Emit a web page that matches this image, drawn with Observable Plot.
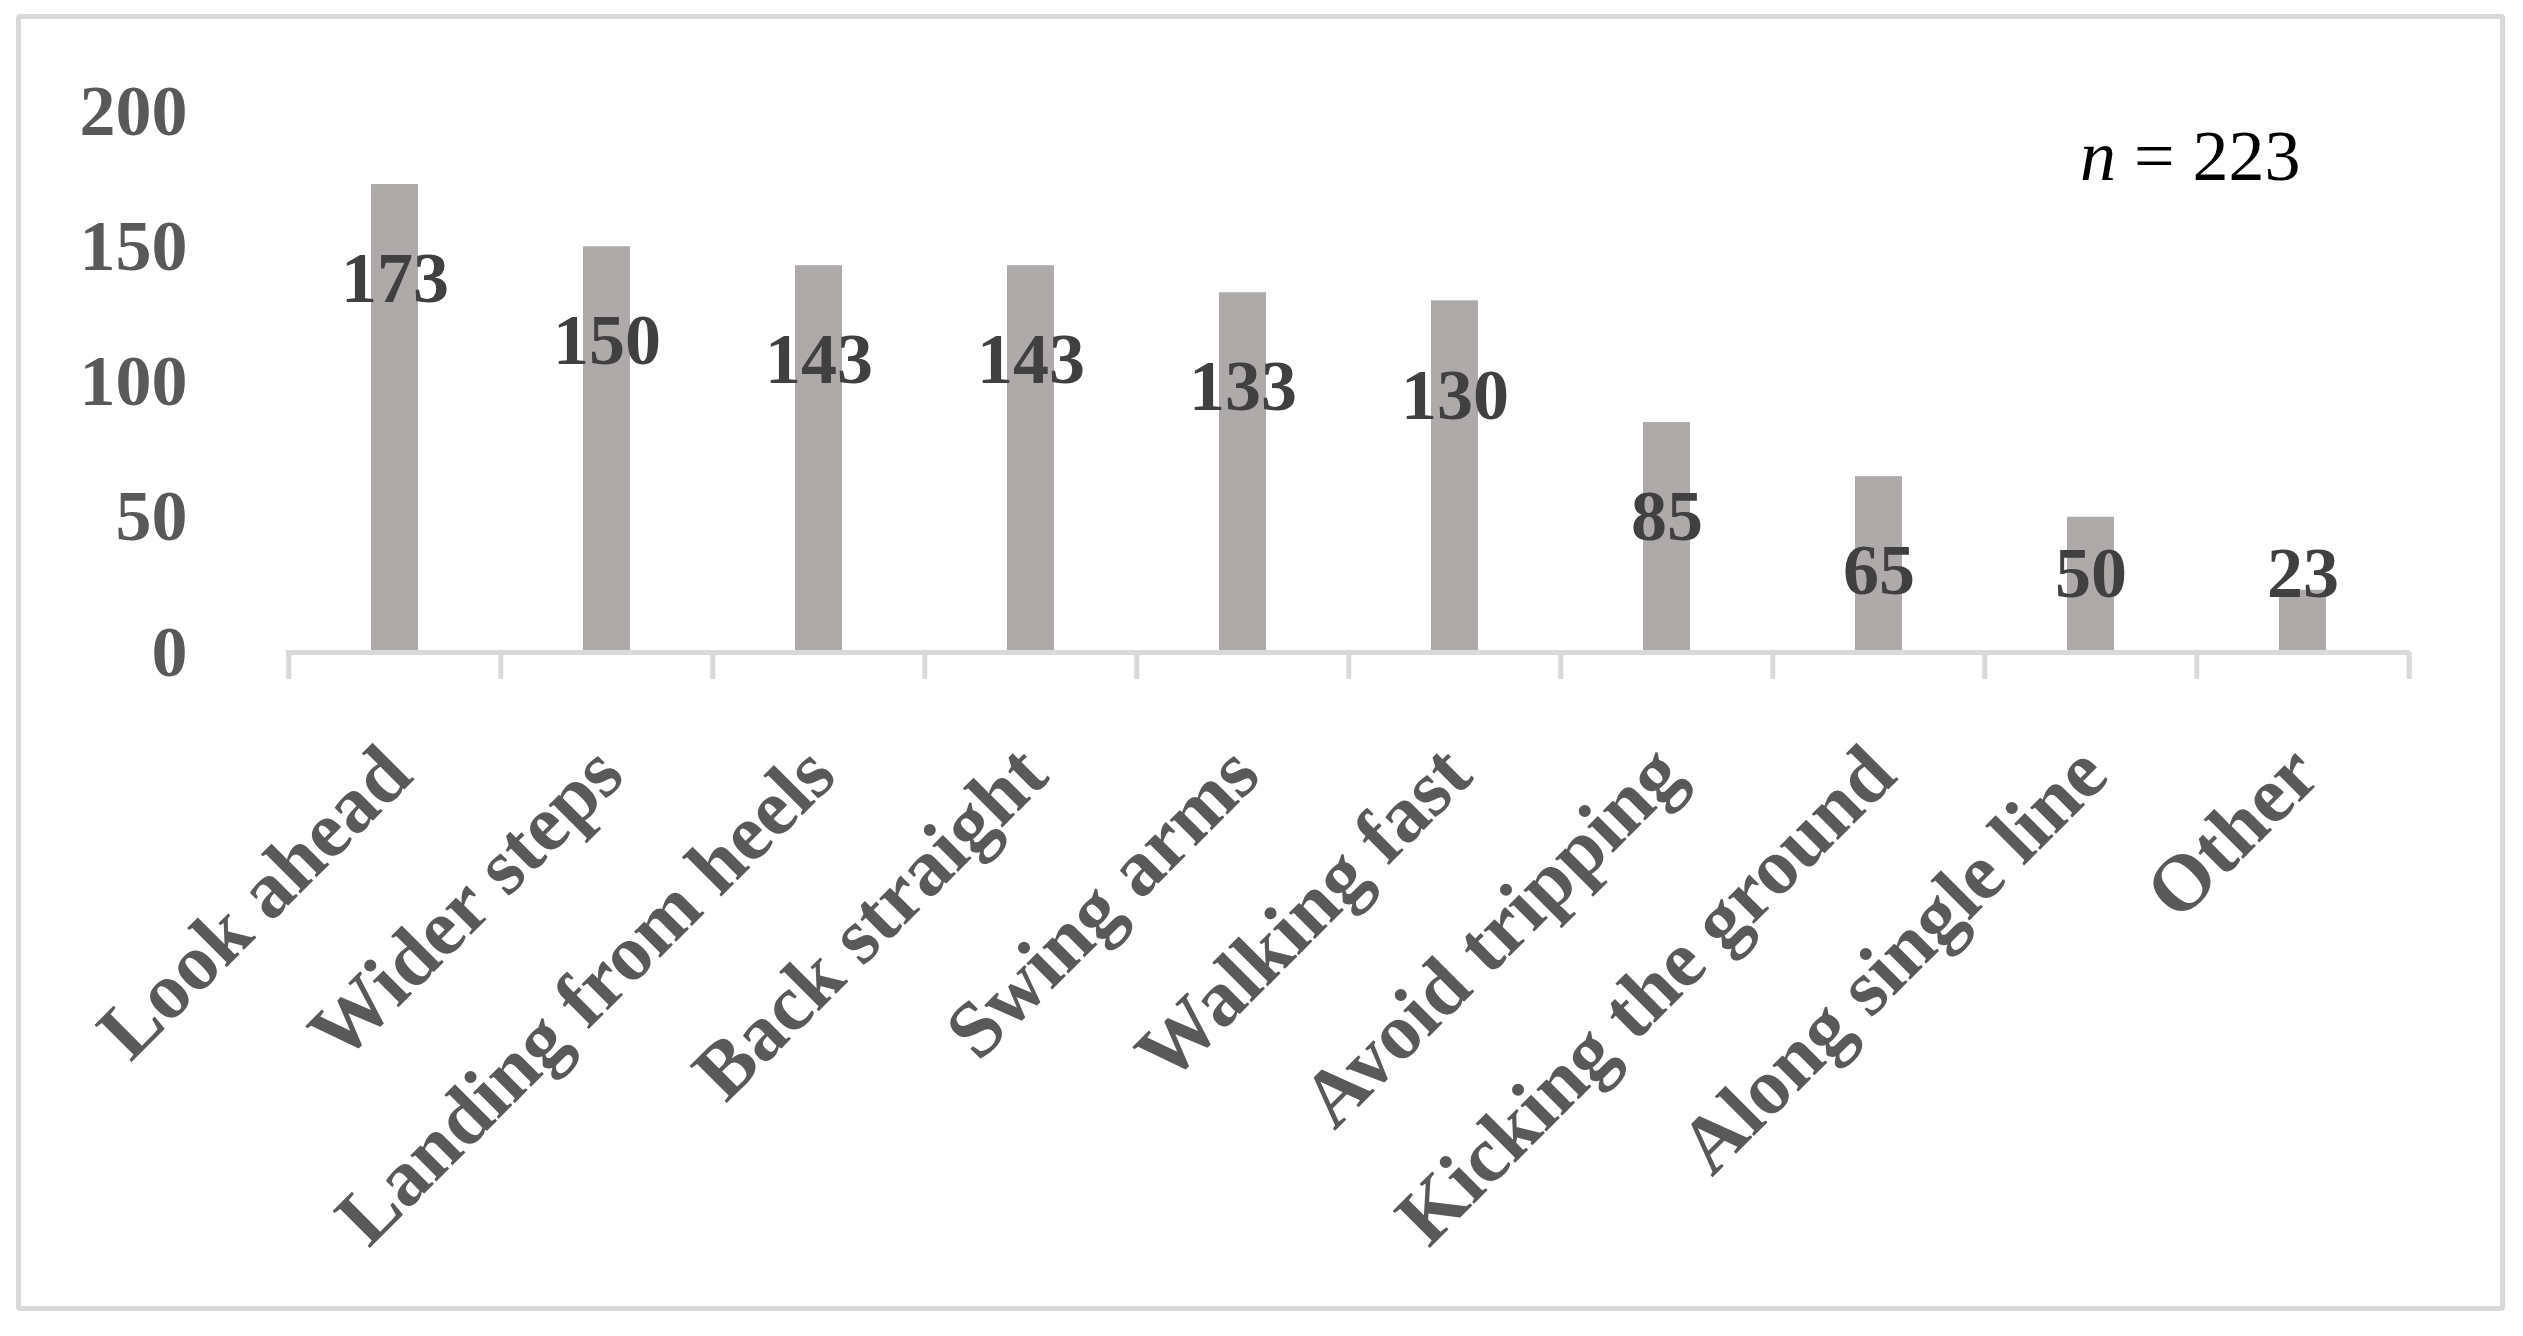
<!DOCTYPE html>
<html>
<head>
<meta charset="utf-8">
<script src="https://cdn.jsdelivr.net/npm/d3@7"></script>
<script src="https://cdn.jsdelivr.net/npm/@observablehq/plot@0.6"></script>
<style>
  html, body { margin: 0; padding: 0; background: #ffffff; }
  #wrap { position: relative; width: 2523px; height: 1336px; overflow: hidden; background: #fff; }
  #frame { position: absolute; left: 16px; top: 14px; width: 2489px; height: 1297px; box-sizing: border-box;
           border: 5px solid #d9d9d9; border-radius: 4px; pointer-events: none; }
  #note { position: absolute; left: 2080px; top: 120px; font-family: "Liberation Serif", serif; font-size: 72px;
          line-height: 1; color: #000; white-space: nowrap; }
  #chart { position: absolute; left: 0; top: 0; }
</style>
</head>
<body>
<div id="wrap">
  <div id="chart"></div>
  <div id="frame"></div>
  <div id="note"><i>n</i> = 223</div>
</div>
<script>
const categories = ["Look ahead", "Wider steps", "Landing from heels", "Back straight", "Swing arms",
                    "Walking fast", "Avoid tripping", "Kicking the ground", "Along single line", "Other"];
const values = [173, 150, 143, 143, 133, 130, 85, 65, 50, 23];
const yTicks = [0, 50, 100, 150, 200];

const rows = categories.map((c, i) => ({category: c, value: values[i]}));

const W = 2523, H = 1336;
const mL = 286, mR = 113, mT = 111, mB = 684;
const step = (W - mL - mR) / categories.length;

const plot = Plot.plot({
  width: W,
  height: H,
  marginLeft: mL,
  marginRight: mR,
  marginTop: mT,
  marginBottom: mB,
  style: {fontFamily: "'Liberation Serif', serif", background: "transparent", overflow: "visible"},
  x: {domain: categories, paddingInner: 0.78, paddingOuter: 0.39, axis: null},
  y: {domain: [0, 200], axis: null},
  marks: [
    Plot.axisY({ticks: yTicks, tickSize: 0, tickPadding: 99, fontSize: 72, fontWeight: "bold", fill: "#595959", label: null, tickFormat: d => String(d)}),
    Plot.barY(rows, {x: "category", y: "value", fill: "#aeaaaa"}),
    Plot.ruleY([0], {stroke: "#d9d9d9", strokeWidth: 5}),
    Plot.ruleX(rows, {x: "category", y1: 0, y2: -10, dx: -step / 2, stroke: "#d9d9d9", strokeWidth: 5}),
    Plot.ruleX(rows.slice(-1), {x: "category", y1: 0, y2: -10, dx: step / 2, stroke: "#d9d9d9", strokeWidth: 5}),
    Plot.text(rows, {x: "category", y: d => Math.max(d.value - 35, 29), text: d => String(d.value),
                     fontSize: 72, fontWeight: "bold", fill: "#404040"}),
    Plot.text(rows, {x: "category", y: () => 0, text: "category", rotate: -45, textAnchor: "end",
                     dx: 2, dy: 108, fontSize: 80, fontWeight: "bold", fill: "#595959"})
  ]
});
document.getElementById("chart").appendChild(plot);
</script>
</body>
</html>
